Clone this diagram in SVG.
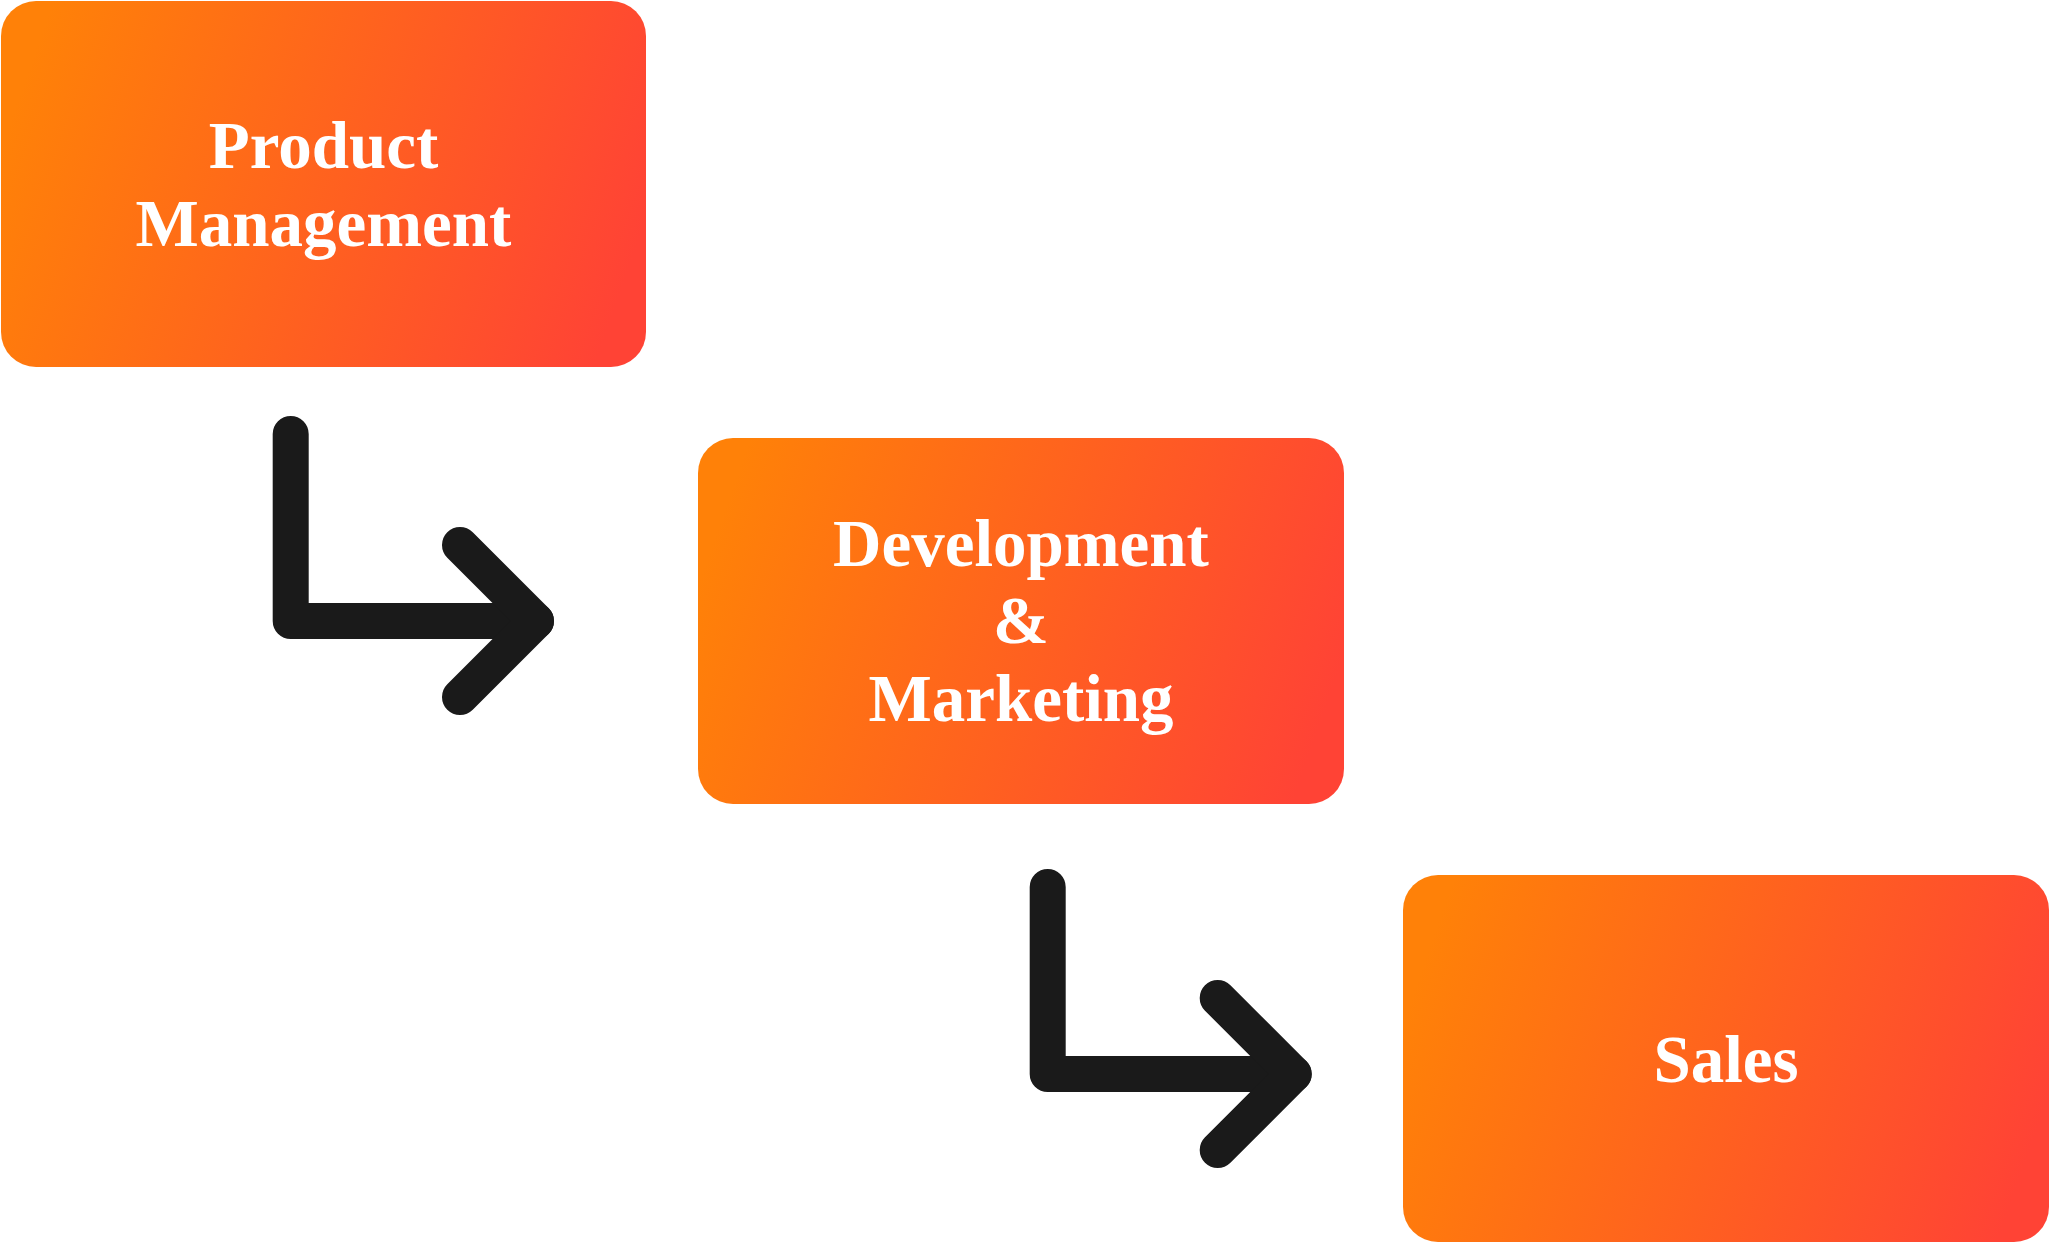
<svg xmlns="http://www.w3.org/2000/svg" width="2049" height="1242" viewBox="0 0 2049 1242">
  <defs>
    <linearGradient id="grad" x1="0" y1="0.4" x2="1" y2="0.6">
      <stop offset="0" stop-color="#FF8108"/>
      <stop offset="1" stop-color="#FF4335"/>
    </linearGradient>
    <style>
      .box { fill: url(#grad); }
      .label { font-family: "Liberation Serif", "Times New Roman", serif; font-weight: bold; font-size: 67px; fill: #FFFFFF; text-anchor: middle; }
      .conn { fill: none; stroke: #1A1A1A; stroke-width: 36; stroke-linecap: round; stroke-linejoin: round; }
    </style>
  </defs>
  <rect width="2049" height="1242" fill="#FFFFFF"/>
  <g id="node-product-management">
    <rect class="box" x="1" y="1" width="645" height="366" rx="35" ry="35"/>
    <text class="label" x="323.5" y="168">Product</text>
    <text class="label" x="323.5" y="246">Management</text>
  </g>
  <g id="node-development-marketing">
    <rect class="box" x="698" y="438" width="646" height="366" rx="35" ry="35"/>
    <text class="label" x="1021" y="566">Development</text>
    <text class="label" x="1021" y="643">&amp;</text>
    <text class="label" x="1021" y="721">Marketing</text>
  </g>
  <g id="node-sales">
    <rect class="box" x="1403" y="875" width="646" height="367" rx="35" ry="35"/>
    <text class="label" x="1726" y="1082">Sales</text>
  </g>
  <g id="connectors">
    <path class="conn" d="M290.7 434 V621 H536"/>
    <path class="conn" d="M460 545 L536 621 L460 697"/>
    <path class="conn" d="M1047.7 887 V1074 H1293.7"/>
    <path class="conn" d="M1217.7 998 L1293.7 1074 L1217.7 1150"/>
  </g>
</svg>
